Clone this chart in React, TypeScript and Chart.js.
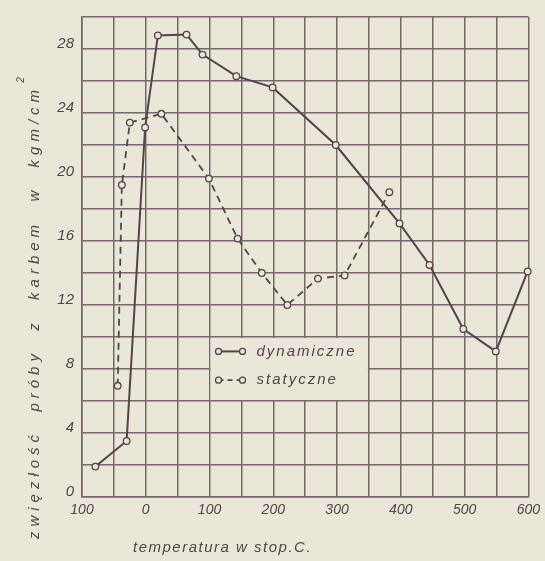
import React, { useEffect, useRef } from "react";
import { Chart, registerables } from "chart.js";

Chart.register(...registerables);

const dynTemp = [-79, -30, -1, 19, 64, 89, 142, 199, 298, 398, 445, 498, 549, 599];
const dynVal = [1.9, 3.5, 23.1, 28.85, 28.9, 27.65, 26.3, 25.6, 22.0, 17.1, 14.5, 10.5, 9.1, 14.1];

const statTemp = [-44, -37.5, -25, 24.5, 99, 144, 182, 222, 270, 312, 382];
const statVal = [6.95, 19.5, 23.4, 23.95, 19.9, 16.15, 14.0, 12.0, 13.65, 13.85, 19.05];

const seriesNames = ["dynamiczne", "statyczne"];
const xTitle = "temperatura w stop.C.";
const yTitle = "zwięzłość  próby  z  karbem  w  kgm/cm";

const BG = "#E9E7D8";
const GRID = "#76676a";
const INK = "#54434a";
const FONT = "'Liberation Sans', Arial, sans-serif";

export default function App() {
  const ref = useRef<HTMLCanvasElement | null>(null);

  useEffect(() => {
    document.body.style.margin = "0";
    document.body.style.background = BG;
    const canvas = ref.current;
    if (!canvas) return;

    const decor = {
      id: "decor",
      beforeDraw(chart: any) {
        const ctx = chart.ctx;
        ctx.save();
        ctx.fillStyle = BG;
        ctx.fillRect(0, 0, chart.width, chart.height);
        ctx.restore();
      },
      afterDatasetsDraw(chart: any) {
        const ctx = chart.ctx;
        const xs = chart.scales.x;
        const ys = chart.scales.y;
        const l = xs.getPixelForValue(100) + 1;
        const r = xs.getPixelForValue(350) - 1;
        const t = ys.getPixelForValue(10) + 1;
        const b = ys.getPixelForValue(6) - 1;
        ctx.save();
        ctx.fillStyle = BG;
        ctx.fillRect(l, t, r - l, b - t);
        const rows = [ys.getPixelForValue(9.1), ys.getPixelForValue(7.3)];
        rows.forEach((yy: number, i: number) => {
          const x0 = l + 8;
          const x1 = l + 32;
          ctx.strokeStyle = INK;
          ctx.lineWidth = i === 0 ? 2 : 1.8;
          ctx.setLineDash(i === 0 ? [] : [5, 4]);
          ctx.beginPath();
          ctx.moveTo(x0, yy);
          ctx.lineTo(x1, yy);
          ctx.stroke();
          ctx.setLineDash([]);
          ctx.lineWidth = 1.3;
          [x0, x1].forEach((cx) => {
            ctx.beginPath();
            ctx.arc(cx, yy, 3, 0, Math.PI * 2);
            ctx.fillStyle = BG;
            ctx.fill();
            ctx.stroke();
          });
          ctx.fillStyle = INK;
          ctx.font = `italic 15px ${FONT}`;
          (ctx as any).letterSpacing = "2px";
          ctx.textAlign = "left";
          ctx.textBaseline = "middle";
          ctx.fillText(seriesNames[i], l + 46, yy);
        });
        ctx.restore();
      },
      afterDraw(chart: any) {
        const ctx = chart.ctx;
        ctx.save();
        ctx.fillStyle = INK;
        ctx.font = `italic 15px ${FONT}`;
        (ctx as any).letterSpacing = "1.5px";
        ctx.textAlign = "left";
        ctx.textBaseline = "middle";
        ctx.fillText(xTitle, 133, 548);
        ctx.translate(35, 312);
        ctx.rotate(-Math.PI / 2);
        ctx.textAlign = "center";
        (ctx as any).letterSpacing = "5px";
        ctx.fillText(yTitle, 0, 0);
        ctx.restore();
        ctx.save();
        ctx.fillStyle = INK;
        ctx.font = `italic 10px ${FONT}`;
        ctx.translate(21, 80);
        ctx.rotate(-Math.PI / 2);
        ctx.textAlign = "center";
        ctx.textBaseline = "middle";
        ctx.fillText("2", 0, 0);
        ctx.restore();
      },
    };

    const chart = new Chart(canvas, {
      type: "line",
      data: {
        datasets: [
          {
            label: seriesNames[0],
            data: dynTemp.map((x, i) => ({ x, y: dynVal[i] })),
            borderColor: INK,
            borderWidth: 2,
            pointRadius: 3.3,
            pointBorderWidth: 1.3,
            pointBackgroundColor: BG,
            pointBorderColor: INK,
            tension: 0,
            clip: false as any,
          },
          {
            label: seriesNames[1],
            data: statTemp.map((x, i) => ({ x, y: statVal[i] })),
            borderColor: INK,
            borderWidth: 1.8,
            borderDash: [7, 5],
            pointRadius: 3.3,
            pointBorderWidth: 1.3,
            pointBackgroundColor: BG,
            pointBorderColor: INK,
            tension: 0,
            clip: false as any,
          },
        ],
      },
      options: {
        animation: false,
        responsive: false,
        layout: { padding: { left: 0, right: 15, top: 13, bottom: 0 } },
        plugins: { legend: { display: false }, tooltip: { enabled: false } },
        scales: {
          x: {
            type: "linear",
            min: -100,
            max: 600,
            afterFit: (s: any) => {
              s.height = 64;
            },
            ticks: {
              stepSize: 50,
              autoSkip: false,
              maxRotation: 0,
              padding: 5,
              color: INK,
              font: { family: FONT, size: 14, style: "italic" },
              callback: (v: any) => (Number(v) % 100 === 0 ? String(Math.abs(Number(v))) : ""),
            },
            grid: { color: GRID, lineWidth: 1.5, drawTicks: false },
            border: { color: GRID, width: 1.6 },
          },
          y: {
            min: 0,
            max: 30,
            afterFit: (s: any) => {
              s.width = 82;
            },
            ticks: {
              stepSize: 2,
              autoSkip: false,
              padding: 8,
              labelOffset: -5,
              color: INK,
              font: { family: FONT, size: 15, style: "italic" },
              callback: (v: any) => (Number(v) % 4 === 0 && Number(v) < 30 ? String(v) : ""),
            },
            grid: { color: GRID, lineWidth: 1.5, drawTicks: false },
            border: { color: GRID, width: 1.6 },
          },
        },
      },
      plugins: [decor],
    });
    return () => chart.destroy();
  }, []);

  return (
    <div style={{ position: "fixed", left: 0, top: 0, width: 545, height: 561 }}>
      <canvas ref={ref} width={545} height={561} style={{ width: 545, height: 561, display: "block" }} />
    </div>
  );
}
